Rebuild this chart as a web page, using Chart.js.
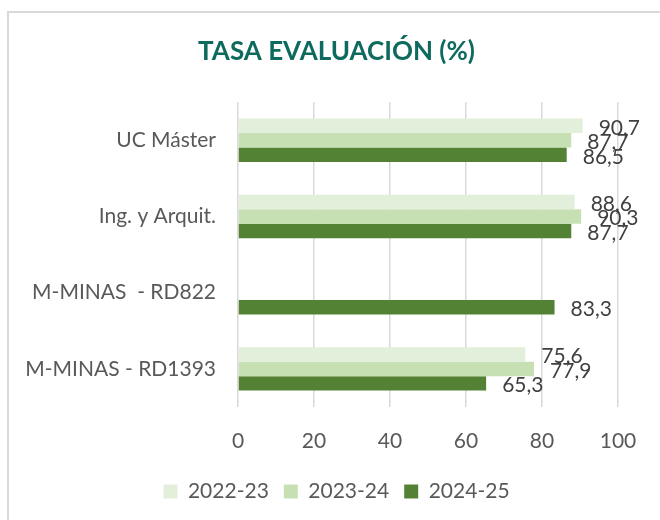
<!DOCTYPE html>
<html><head><meta charset="utf-8">
<script src="https://cdn.jsdelivr.net/npm/chart.js@4"></script>
<style>
html,body{margin:0;padding:0;background:#fff;overflow:hidden;width:660px;height:520px}
#frame{position:absolute;left:7px;top:11px;width:700px;height:560px;border:2px solid #d9d9d9;box-sizing:border-box}
#wrap{position:absolute;left:0;top:0;width:660px;height:520px}
</style></head><body>
<div id="frame"></div>
<div id="wrap"><canvas id="c" width="660" height="520"></canvas></div>
<script>
const categories = ['UC Máster', 'Ing. y Arquit.', 'M-MINAS  - RD822', 'M-MINAS - RD1393'];
const seriesNames = ['2022-23', '2023-24', '2024-25'];
const values2022 = [90.7, 88.6, null, 75.6];
const values2023 = [87.7, 90.3, null, 77.9];
const values2024 = [86.5, 87.7, 83.3, 65.3];
const xTicks = [0, 20, 40, 60, 80, 100];
const seriesColors = ['#e2efda', '#c6e0b4', '#548235'];

const FONT = 'Lato';

const valueLabels = {
  id: 'valueLabels',
  afterDatasetsDraw(chart) {
    const ctx = chart.ctx;
    ctx.save();
    ctx.font = '21px ' + FONT;
    ctx.fillStyle = '#404040';
    ctx.textAlign = 'left';
    ctx.textBaseline = 'middle';
    chart.data.datasets.forEach((ds, i) => {
      const meta = chart.getDatasetMeta(i);
      meta.data.forEach((el, j) => {
        const v = ds.data[j];
        if (v == null) return;
        ctx.fillText(v.toFixed(1).replace('.', ','), el.x + 16, el.y + 2);
      });
    });
    ctx.restore();
  }
};

const allSeries = [values2022, values2023, values2024];

new Chart(document.getElementById('c'), {
  type: 'bar',
  data: {
    labels: categories,
    datasets: seriesNames.map((name, i) => ({
      label: name,
      data: allSeries[i],
      backgroundColor: seriesColors[i],
      borderWidth: 0,
      categoryPercentage: 0.57,
      barPercentage: 1.0
    }))
  },
  options: {
    indexAxis: 'y',
    responsive: false,
    animation: false,
    devicePixelRatio: 1,
    layout: { padding: { left: 23, right: 10, top: 0, bottom: 8 } },
    scales: {
      x: {
        min: 0, max: 100,
        afterBuildTicks(scale) { scale.ticks = xTicks.map(v => ({ value: v })); },
        afterFit(scale) { scale.height = 59; },
        grid: { color: '#d9d9d9', lineWidth: 1.5, drawTicks: false },
        border: { display: false },
        ticks: { padding: 22, color: '#595959', font: { family: FONT, size: 21 } }
      },
      y: {
        afterFit(scale) { scale.width = 215; },
        grid: { display: false, drawTicks: false },
        border: { display: false },
        ticks: { padding: 22, color: '#595959', font: { family: FONT, size: 21 } }
      },
      yRight: {
        type: 'category',
        position: 'right',
        afterFit(scale) { scale.width = 32; },
        grid: { display: false, drawTicks: false },
        border: { display: false },
        ticks: { display: false }
      }
    },
    plugins: {
      title: {
        display: true,
        text: 'TASA EVALUACIÓN (%)',
        color: '#0e6a5e',
        font: { family: FONT, size: 26, weight: 'bold' },
        padding: { top: 36, bottom: 35 }
      },
      legend: {
        position: 'bottom',
        labels: {
          boxWidth: 14, boxHeight: 14, padding: 15,
          color: '#595959',
          font: { family: FONT, size: 21 }
        }
      },
      tooltip: { enabled: false }
    }
  },
  plugins: [valueLabels]
});
</script>
</body></html>
